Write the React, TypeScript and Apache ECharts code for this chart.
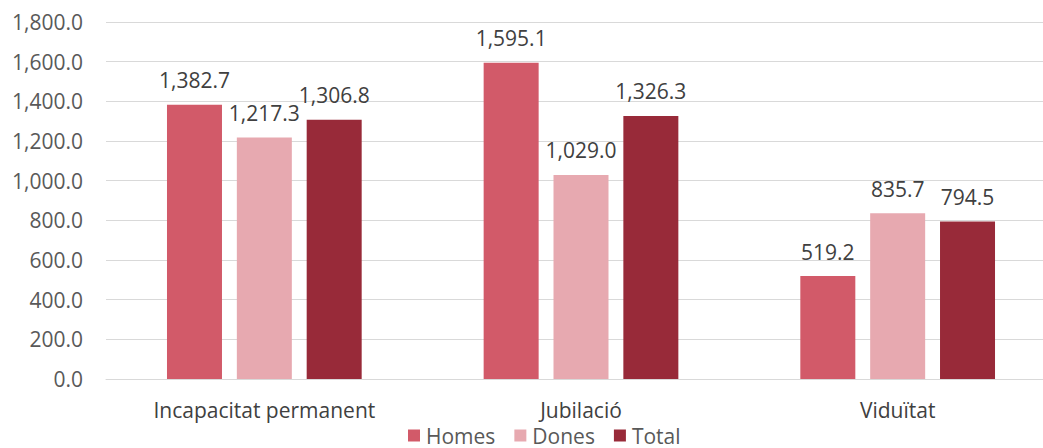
import React, { useEffect, useRef } from "react";
import * as echarts from "echarts";

const categories = ["Incapacitat permanent", "Jubilació", "Viduïtat"];
const homes = [1382.7, 1595.1, 519.2];
const dones = [1217.3, 1029.0, 835.7];
const total = [1306.8, 1326.3, 794.5];
const seriesNames = ["Homes", "Dones", "Total"];
const colors = ["#D25A69", "#E7A9B0", "#982A39"];

const fmt = (v: number) =>
  v.toLocaleString("en-US", { minimumFractionDigits: 1, maximumFractionDigits: 1 });

const FONT = "'Open Sans', 'Noto Sans', sans-serif";
const FS = 21;

export default function App() {
  const ref = useRef<HTMLDivElement>(null);
  useEffect(() => {
    document.body.style.margin = "0";
    document.body.style.overflow = "hidden";
    const chart = echarts.init(ref.current!, null, { renderer: "svg" });
    const data = [homes, dones, total];
    chart.setOption({
      animation: false,
      textStyle: { fontFamily: FONT },
      grid: { left: 106, right: 4, top: 22, bottom: 69, containLabel: false },
      legend: {
        data: seriesNames,
        top: 425,
        left: 408,
        itemWidth: 12,
        itemHeight: 12,
        itemGap: 19,
        icon: "rect",
        padding: 0,
        textStyle: { fontSize: FS, color: "#595959", fontFamily: FONT, padding: [0, 0, 0, 1] },
      },
      xAxis: {
        type: "category",
        data: categories,
        axisLine: { lineStyle: { color: "#D9D9D9", width: 1 } },
        axisTick: { show: false },
        axisLabel: { fontSize: FS, color: "#404040", margin: 20, fontFamily: FONT },
      },
      yAxis: {
        type: "value",
        min: 0,
        max: 1800,
        interval: 200,
        axisLine: { show: false },
        axisTick: { show: false },
        splitLine: { lineStyle: { color: "#D9D9D9", width: 1 } },
        axisLabel: {
          fontSize: FS,
          color: "#595959",
          margin: 23,
          fontFamily: FONT,
          formatter: (v: number) => fmt(v),
        },
      },
      series: seriesNames.map((name, i) => ({
        name,
        type: "bar",
        data: data[i],
        barWidth: 55,
        barGap: "27%",
        itemStyle: { color: colors[i] },
        label: {
          show: true,
          position: "top",
          distance: 14,
          fontSize: FS,
          color: "#404040",
          fontFamily: FONT,
          formatter: (p: any) => fmt(p.value),
        },
      })),
    });
    return () => chart.dispose();
  }, []);
  return <div ref={ref} style={{ width: 1060, height: 448 }} />;
}
